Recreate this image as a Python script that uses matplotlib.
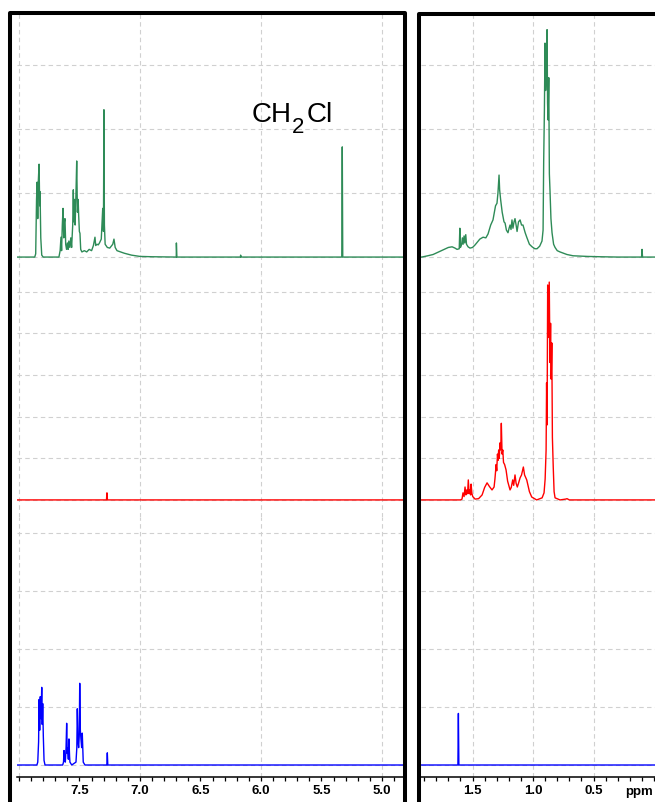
import numpy as np
import matplotlib.pyplot as plt
from matplotlib.patches import Rectangle

plt.rcParams['font.family'] = ['Liberation Sans', 'DejaVu Sans']

# traces as (ppm, intensity) vertices, intensity in grid steps of each strip
green_trace = np.array([
    [8.02, 0.0], [7.87, 0.0], [7.862, 0.05], [7.855, 0.9], [7.850, 1.17], [7.845, 0.6],
    [7.840, 1.2], [7.834, 1.45], [7.829, 0.8], [7.826, 1.02], [7.820, 0.3], [7.812, 0.03],
    [7.80, 0.0], [7.67, 0.0], [7.66, 0.1], [7.653, 0.31], [7.648, 0.1], [7.642, 0.5],
    [7.636, 0.76], [7.630, 0.3], [7.625, 0.55], [7.620, 0.6], [7.614, 0.2], [7.607, 0.12],
    [7.600, 0.22], [7.594, 0.12], [7.588, 0.25], [7.580, 0.15], [7.572, 0.3], [7.565, 0.15],
    [7.556, 0.5], [7.551, 1.05], [7.547, 0.55], [7.541, 0.9], [7.536, 0.5], [7.529, 1.0],
    [7.523, 1.5], [7.517, 0.7], [7.511, 0.9], [7.507, 0.66], [7.501, 0.4], [7.496, 0.37],
    [7.490, 0.12], [7.48, 0.08], [7.46, 0.1], [7.44, 0.08], [7.42, 0.12], [7.40, 0.1],
    [7.385, 0.18], [7.372, 0.31], [7.366, 0.18], [7.355, 0.2], [7.345, 0.19], [7.335, 0.22],
    [7.320, 0.28], [7.308, 0.76], [7.302, 0.4], [7.298, 2.3], [7.294, 0.5], [7.288, 0.2],
    [7.270, 0.15], [7.250, 0.14], [7.225, 0.2], [7.215, 0.28], [7.205, 0.15], [7.19, 0.1],
    [7.16, 0.08], [7.13, 0.06], [7.07, 0.03], [7.00, 0.01], [6.90, 0.005], [6.70, 0.0],
    [6.699, 0.22], [6.695, 0.0], [6.17, 0.0], [6.168, 0.03], [6.165, 0.0], [5.332, 0.0],
    [5.328, 1.72], [5.324, 0.0], [4.70, 0.0],
    [1.95, 0.0], [1.92, 0.0], [1.87, 0.02], [1.826, 0.04], [1.78, 0.08], [1.744, 0.11],
    [1.70, 0.15], [1.669, 0.16], [1.645, 0.14], [1.628, 0.12], [1.610, 0.13], [1.605, 0.45],
    [1.600, 0.15], [1.590, 0.2], [1.584, 0.3], [1.578, 0.2], [1.570, 0.33], [1.564, 0.22],
    [1.556, 0.35], [1.550, 0.2], [1.537, 0.16], [1.521, 0.14], [1.50, 0.15], [1.479, 0.19],
    [1.44, 0.28], [1.413, 0.31], [1.39, 0.3], [1.372, 0.36], [1.35, 0.5], [1.331, 0.58],
    [1.31, 0.8], [1.298, 0.84], [1.290, 1.0], [1.281, 1.28], [1.276, 1.05], [1.268, 0.9],
    [1.255, 0.7], [1.240, 0.55], [1.231, 0.53], [1.220, 0.42], [1.207, 0.38], [1.198, 0.45],
    [1.190, 0.5], [1.182, 0.43], [1.174, 0.58], [1.166, 0.45], [1.157, 0.55], [1.149, 0.6],
    [1.140, 0.5], [1.132, 0.4], [1.120, 0.55], [1.107, 0.58], [1.095, 0.5], [1.083, 0.5],
    [1.065, 0.38], [1.050, 0.3], [1.030, 0.2], [1.008, 0.16], [0.985, 0.13], [0.967, 0.13],
    [0.945, 0.17], [0.926, 0.25], [0.917, 0.42], [0.912, 1.5], [0.906, 2.3], [0.901, 3.34],
    [0.896, 2.6], [0.890, 2.9], [0.884, 3.55], [0.880, 2.4], [0.876, 2.14], [0.870, 2.8],
    [0.865, 1.3], [0.860, 1.05], [0.852, 0.6], [0.843, 0.38], [0.830, 0.2], [0.818, 0.15],
    [0.80, 0.1], [0.777, 0.08], [0.72, 0.04], [0.669, 0.02], [0.55, 0.01], [0.446, 0.005],
    [0.30, 0.0], [0.103, 0.0], [0.099, 0.12], [0.095, 0.0], [-0.40, 0.0],
])

red_trace = np.array([
    [8.02, 0.0], [7.277, 0.0], [7.273, 0.17], [7.269, 0.0], [4.70, 0.0],
    [1.95, 0.0], [1.60, 0.0], [1.587, 0.02], [1.579, 0.17], [1.570, 0.08], [1.562, 0.31],
    [1.555, 0.12], [1.548, 0.24], [1.541, 0.15], [1.535, 0.48], [1.528, 0.15], [1.521, 0.24],
    [1.516, 0.12], [1.512, 0.38], [1.505, 0.15], [1.498, 0.08], [1.479, 0.02], [1.45, 0.03],
    [1.421, 0.12], [1.40, 0.3], [1.380, 0.41], [1.36, 0.32], [1.339, 0.24], [1.322, 0.31],
    [1.315, 0.5], [1.305, 0.85], [1.300, 0.7], [1.294, 1.1], [1.289, 0.95], [1.284, 1.2],
    [1.279, 1.0], [1.273, 1.37], [1.267, 1.2], [1.262, 1.84], [1.256, 1.1], [1.250, 1.2],
    [1.244, 0.9], [1.235, 0.85], [1.223, 0.72], [1.21, 0.45], [1.190, 0.24], [1.180, 0.3],
    [1.168, 0.48], [1.160, 0.35], [1.149, 0.6], [1.140, 0.4], [1.130, 0.31], [1.120, 0.4],
    [1.107, 0.53], [1.095, 0.6], [1.080, 0.79], [1.070, 0.6], [1.052, 0.48], [1.030, 0.2],
    [1.011, 0.07], [0.970, 0.0], [0.925, 0.05], [0.909, 0.17], [0.900, 0.5], [0.892, 1.2],
    [0.888, 2.81], [0.884, 1.8], [0.879, 5.16], [0.874, 3.9], [0.866, 5.23], [0.860, 3.3],
    [0.855, 4.24], [0.850, 2.9], [0.845, 3.77], [0.840, 1.5], [0.833, 0.79], [0.826, 0.2],
    [0.818, 0.05], [0.777, 0.0], [0.73, 0.02], [0.719, 0.03], [0.70, 0.0], [-0.40, 0.0],
])

blue_trace = np.array([
    [8.02, 0.0], [7.852, 0.0], [7.845, 0.05], [7.838, 0.4], [7.834, 1.13], [7.829, 0.6],
    [7.824, 1.18], [7.818, 0.8], [7.812, 1.34], [7.808, 0.7], [7.804, 1.06], [7.799, 0.5],
    [7.793, 0.08], [7.785, 0.0], [7.639, 0.0], [7.632, 0.05], [7.628, 0.25], [7.622, 0.08],
    [7.617, 0.05], [7.611, 0.3], [7.606, 0.72], [7.601, 0.2], [7.598, 0.3], [7.592, 0.1],
    [7.587, 0.45], [7.582, 0.15], [7.579, 0.05], [7.564, 0.0], [7.529, 0.05], [7.522, 0.3],
    [7.518, 0.97], [7.512, 0.4], [7.507, 0.3], [7.502, 0.5], [7.498, 1.41], [7.493, 0.6],
    [7.488, 0.45], [7.482, 0.3], [7.477, 0.55], [7.473, 0.3], [7.469, 0.05], [7.455, 0.0],
    [7.274, 0.0], [7.270, 0.21], [7.266, 0.0], [4.70, 0.0],
    [1.95, 0.0], [1.621, 0.0], [1.617, 0.89], [1.613, 0.0], [-0.40, 0.0],
])

# strips top to bottom: trace, colour, pixel top/bottom, y-limits, grid rows
strips = [
    (green_trace, '#2e8b57', 13, 275, (-0.28, 3.81), [0, 1, 2, 3]),
    (red_trace, '#ff0000', 275, 517, (-0.41, 5.40), [0, 1, 2, 3, 4, 5]),
    (blue_trace, '#0000ff', 517, 777, (-0.207, 4.28), [0, 1, 2, 3, 4]),
]

# panels: pixel left/right, ppm limits, vertical grid, labelled ticks
panels = [
    (17, 403, (8.0165, 4.826), [8.0, 7.0, 6.0, 5.0], [7.5, 7.0, 6.5, 6.0, 5.5, 5.0]),
    (421, 700, (1.926, -0.380), [1.5, 1.0, 0.5], [1.5, 1.0, 0.5]),
]

W, H = 655, 802
fig = plt.figure(figsize=(W / 100, H / 100), dpi=100)


def add_px_axes(x0, y0, x1, y1):
    return fig.add_axes([x0 / W, 1 - y1 / H, (x1 - x0) / W, (y1 - y0) / H])


grid_kw = dict(color='#d0d0d0', lw=0.8, ls=(0, (4, 3)))

for px0, px1, xlim, vgrid, major in panels:
    for k, (trace, color, top, bottom, ylim, rows) in enumerate(strips):
        ax = add_px_axes(px0, top, px1, bottom)
        ax.patch.set_alpha(0)
        for v in vgrid:
            ax.axvline(v, zorder=0, **grid_kw)
        for r in rows:
            ax.axhline(r, zorder=0, **grid_kw)
        ax.plot(trace[:, 0], trace[:, 1], color=color, lw=1.0, zorder=2)
        for s in ax.spines.values():
            s.set_visible(False)
        ax.set_yticks([])
        if k < 2:
            ax.set_xticks([])
        else:
            ax.spines['bottom'].set_visible(True)
            ax.spines['bottom'].set_linewidth(1.1)
            ax.set_xticks(major)
            ax.set_xticklabels([f'{m:.1f}' for m in major], fontsize=9.5, fontweight='bold')
            ax.set_xticks(np.round(np.arange(-0.3, 8.05, 0.1), 1), minor=True)
            ax.tick_params(axis='x', which='both', direction='out', length=3, width=0.9, pad=2.5)
        ax.set_xlim(xlim)
        ax.set_ylim(ylim)

# thick frames round each panel, running off the bottom edge
for x0, x1, y0 in [(9.5, 404.7, 13.3), (418.7, 720, 14.3)]:
    fig.add_artist(Rectangle((x0 / W, -0.1), (x1 - x0) / W, 1 - y0 / H + 0.1,
                             transform=fig.transFigure, fill=False, ec='black',
                             lw=2.9, joinstyle='round', zorder=10))

# CH2Cl label with a lowered subscript
fig.text(252 / W, 1 - 122 / H, 'CH', fontsize=20, ha='left', va='baseline')
fig.text(292 / W, 1 - 133 / H, '2', fontsize=16, ha='left', va='baseline')
fig.text(307 / W, 1 - 122 / H, 'Cl', fontsize=20, ha='left', va='baseline')

fig.text(639 / W, 1 - 792.5 / H, 'ppm', fontsize=9.5, fontweight='bold', ha='center', va='center')

fig.savefig('out.png', dpi=100)
